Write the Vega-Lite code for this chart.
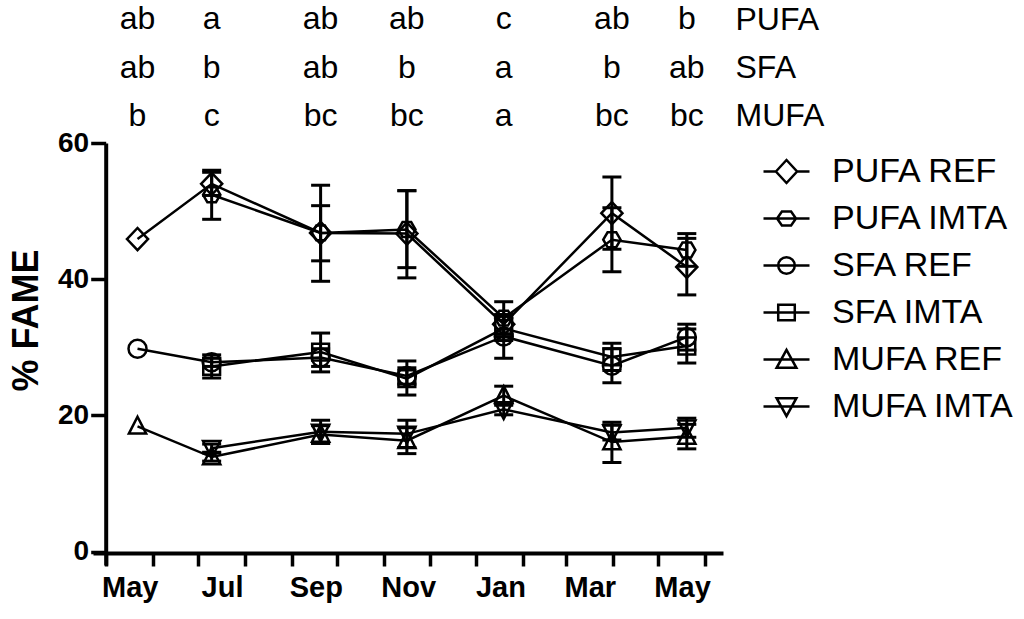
{
  "$schema": "https://vega.github.io/schema/vega-lite/v6.json",
  "background": "white",
  "padding": {"left": 8, "top": 0, "right": 5, "bottom": 5},
  "bounds": "flush",
  "spacing": 8,
  "config": {
    "font": "Liberation Sans",
    "view": {"stroke": null},
    "axis": {"labelColor": "black", "domainColor": "black", "tickColor": "black", "titleColor": "black", "grid": false}
  },
  "datasets": {
    "points": [
      {"date": "2010-05-22", "series": "PUFA REF", "value": 45.9, "lo": null, "hi": null},
      {"date": "2010-07-10", "series": "PUFA REF", "value": 54.0, "lo": 52.3, "hi": 55.7},
      {"date": "2010-09-20", "series": "PUFA REF", "value": 46.8, "lo": 39.7, "hi": 53.8},
      {"date": "2010-11-16", "series": "PUFA REF", "value": 46.7, "lo": 40.2, "hi": 53.0},
      {"date": "2011-01-19", "series": "PUFA REF", "value": 33.4, "lo": 32.0, "hi": 34.8},
      {"date": "2011-03-31T12:00:00Z", "series": "PUFA REF", "value": 49.7, "lo": 44.4, "hi": 55.0},
      {"date": "2011-05-20", "series": "PUFA REF", "value": 41.8, "lo": 37.7, "hi": 46.0},
      {"date": "2010-07-10", "series": "PUFA IMTA", "value": 52.4, "lo": 48.8, "hi": 56.0},
      {"date": "2010-09-20", "series": "PUFA IMTA", "value": 46.8, "lo": 42.7, "hi": 50.8},
      {"date": "2010-11-16", "series": "PUFA IMTA", "value": 47.3, "lo": 41.7, "hi": 53.0},
      {"date": "2011-01-19", "series": "PUFA IMTA", "value": 34.3, "lo": 31.9, "hi": 36.7},
      {"date": "2011-03-31T12:00:00Z", "series": "PUFA IMTA", "value": 45.8, "lo": 41.1, "hi": 50.5},
      {"date": "2011-05-20", "series": "PUFA IMTA", "value": 44.3, "lo": 41.9, "hi": 46.7},
      {"date": "2010-05-22", "series": "SFA REF", "value": 29.8, "lo": null, "hi": null},
      {"date": "2010-07-10", "series": "SFA REF", "value": 27.8, "lo": 27.2, "hi": 28.4},
      {"date": "2010-09-20", "series": "SFA REF", "value": 28.5, "lo": 27.2, "hi": 29.8},
      {"date": "2010-11-16", "series": "SFA REF", "value": 25.8, "lo": 24.6, "hi": 27.0},
      {"date": "2011-01-19", "series": "SFA REF", "value": 31.6, "lo": 28.4, "hi": 34.8},
      {"date": "2011-03-31T12:00:00Z", "series": "SFA REF", "value": 27.3, "lo": 24.8, "hi": 29.8},
      {"date": "2011-05-20", "series": "SFA REF", "value": 31.5, "lo": 29.6, "hi": 33.4},
      {"date": "2010-07-10", "series": "SFA IMTA", "value": 27.2, "lo": 25.5, "hi": 28.9},
      {"date": "2010-09-20", "series": "SFA IMTA", "value": 29.3, "lo": 26.4, "hi": 32.1},
      {"date": "2010-11-16", "series": "SFA IMTA", "value": 25.4, "lo": 23.0, "hi": 28.0},
      {"date": "2011-01-19", "series": "SFA IMTA", "value": 32.8, "lo": 31.0, "hi": 34.6},
      {"date": "2011-03-31T12:00:00Z", "series": "SFA IMTA", "value": 28.6, "lo": 26.6, "hi": 30.6},
      {"date": "2011-05-20", "series": "SFA IMTA", "value": 30.2, "lo": 27.7, "hi": 32.7},
      {"date": "2010-05-22", "series": "MUFA REF", "value": 18.4, "lo": null, "hi": null},
      {"date": "2010-07-10", "series": "MUFA REF", "value": 13.9, "lo": 13.3, "hi": 14.5},
      {"date": "2010-09-20", "series": "MUFA REF", "value": 17.2, "lo": 15.9, "hi": 18.5},
      {"date": "2010-11-16", "series": "MUFA REF", "value": 16.3, "lo": 14.4, "hi": 18.2},
      {"date": "2011-01-19", "series": "MUFA REF", "value": 22.9, "lo": 21.5, "hi": 24.3},
      {"date": "2011-03-31T12:00:00Z", "series": "MUFA REF", "value": 16.1, "lo": 13.1, "hi": 19.0},
      {"date": "2011-05-20", "series": "MUFA REF", "value": 16.9, "lo": 15.1, "hi": 18.7},
      {"date": "2010-07-10", "series": "MUFA IMTA", "value": 15.2, "lo": 14.6, "hi": 15.8},
      {"date": "2010-09-20", "series": "MUFA IMTA", "value": 17.6, "lo": 15.9, "hi": 19.3},
      {"date": "2010-11-16", "series": "MUFA IMTA", "value": 17.3, "lo": 15.3, "hi": 19.3},
      {"date": "2011-01-19", "series": "MUFA IMTA", "value": 20.9, "lo": 20.1, "hi": 21.7},
      {"date": "2011-03-31T12:00:00Z", "series": "MUFA IMTA", "value": 17.5, "lo": 16.4, "hi": 18.6},
      {"date": "2011-05-20", "series": "MUFA IMTA", "value": 18.2, "lo": 16.8, "hi": 19.6}
    ],
    "letters": [
      {"date": "2010-05-22", "fa": "PUFA", "letter": "ab"},
      {"date": "2010-07-10", "fa": "PUFA", "letter": "a"},
      {"date": "2010-09-20", "fa": "PUFA", "letter": "ab"},
      {"date": "2010-11-16", "fa": "PUFA", "letter": "ab"},
      {"date": "2011-01-19", "fa": "PUFA", "letter": "c"},
      {"date": "2011-03-31T12:00:00Z", "fa": "PUFA", "letter": "ab"},
      {"date": "2011-05-20", "fa": "PUFA", "letter": "b"},
      {"date": "2010-05-22", "fa": "SFA", "letter": "ab"},
      {"date": "2010-07-10", "fa": "SFA", "letter": "b"},
      {"date": "2010-09-20", "fa": "SFA", "letter": "ab"},
      {"date": "2010-11-16", "fa": "SFA", "letter": "b"},
      {"date": "2011-01-19", "fa": "SFA", "letter": "a"},
      {"date": "2011-03-31T12:00:00Z", "fa": "SFA", "letter": "b"},
      {"date": "2011-05-20", "fa": "SFA", "letter": "ab"},
      {"date": "2010-05-22", "fa": "MUFA", "letter": "b"},
      {"date": "2010-07-10", "fa": "MUFA", "letter": "c"},
      {"date": "2010-09-20", "fa": "MUFA", "letter": "bc"},
      {"date": "2010-11-16", "fa": "MUFA", "letter": "bc"},
      {"date": "2011-01-19", "fa": "MUFA", "letter": "a"},
      {"date": "2011-03-31T12:00:00Z", "fa": "MUFA", "letter": "bc"},
      {"date": "2011-05-20", "fa": "MUFA", "letter": "bc"}
    ]
  },
  "resolve": {"scale": {"x": "independent", "y": "independent"}, "legend": {"shape": "independent"}},
  "vconcat": [
    {
      "width": 630,
      "height": 135,
      "data": {"name": "letters"},
      "mark": {"type": "text", "fontSize": 32, "font": "Liberation Sans", "color": "black", "baseline": "middle", "align": "center"},
      "encoding": {
        "x": {"field": "date", "type": "temporal", "scale": {"type": "utc", "domain": [{"year": 2010, "month": 4, "date": 22, "hours": 14, "utc": true}, {"year": 2011, "month": 6, "date": 12, "hours": 22, "utc": true}]}, "axis": null},
        "y": {"field": "fa", "type": "nominal", "scale": {"type": "point", "padding": 0.406, "domain": ["PUFA", "SFA", "MUFA"]}, "axis": {"orient": "right", "domain": false, "ticks": false, "labelFontSize": 32, "labelFont": "Liberation Sans", "labelPadding": 12, "title": null}},
        "text": {"field": "letter"}
      }
    },
    {
      "width": 630,
      "height": 422,
      "data": {"name": "points"},
      "resolve": {"scale": {"shape": "independent"}, "legend": {"shape": "independent"}},
      "layer": [
        {
          "mark": {"type": "line", "color": "black", "strokeWidth": 2.5},
          "encoding": {
            "x": {"field": "date", "type": "temporal", "scale": {"type": "utc", "domain": [{"year": 2010, "month": 4, "date": 22, "hours": 14, "utc": true}, {"year": 2011, "month": 6, "date": 12, "hours": 22, "utc": true}]},
              "axis": {"title": null, "offset": -12, "domainWidth": 4, "tickWidth": 3.5, "tickSize": 13,
                "values": [
                  {"year": 2010, "month": 5, "date": 1, "utc": true}, {"year": 2010, "month": 6, "date": 1, "utc": true},
                  {"year": 2010, "month": 7, "date": 1, "utc": true}, {"year": 2010, "month": 8, "date": 1, "utc": true},
                  {"year": 2010, "month": 9, "date": 1, "utc": true}, {"year": 2010, "month": 10, "date": 1, "utc": true},
                  {"year": 2010, "month": 11, "date": 1, "utc": true}, {"year": 2010, "month": 12, "date": 1, "utc": true},
                  {"year": 2011, "month": 1, "date": 1, "utc": true}, {"year": 2011, "month": 2, "date": 1, "utc": true},
                  {"year": 2011, "month": 3, "date": 1, "utc": true}, {"year": 2011, "month": 4, "date": 1, "utc": true},
                  {"year": 2011, "month": 5, "date": 1, "utc": true}, {"year": 2011, "month": 6, "date": 1, "utc": true}
                ],
                "labelExpr": "utcmonth(datum.value) % 2 == 0 ? utcFormat(datum.value, '%b') : ''",
                "labelOffset": 24, "labelFlush": false, "labelOverlap": false, "labelBound": false,
                "labelFontSize": 29, "labelFontWeight": "bold", "labelPadding": 7}},
            "y": {"field": "value", "type": "quantitative", "title": "% FAME",
              "scale": {"domain": [-1.95, 60], "nice": false, "zero": false},
              "axis": {"values": [0, 20, 40, 60], "offset": -12.7, "domainWidth": 4, "tickWidth": 3.5, "tickSize": 15,
                "labelFontSize": 28, "labelFontWeight": "bold", "labelPadding": 2,
                "titleFontSize": 36, "titleFontWeight": "bold", "titlePadding": 12, "titleY": 177}},
            "detail": {"field": "series"}
          }
        },
        {
          "mark": {"type": "rule", "color": "black", "strokeWidth": 3},
          "encoding": {
            "x": {"field": "date", "type": "temporal"},
            "y": {"field": "lo", "type": "quantitative", "title": "% FAME"},
            "y2": {"field": "hi"}
          }
        },
        {
          "mark": {"type": "tick", "orient": "horizontal", "color": "black", "thickness": 3, "size": 19, "opacity": 1},
          "encoding": {
            "x": {"field": "date", "type": "temporal"},
            "y": {"field": "lo", "type": "quantitative", "title": "% FAME"}
          }
        },
        {
          "mark": {"type": "tick", "orient": "horizontal", "color": "black", "thickness": 3, "size": 19, "opacity": 1},
          "encoding": {
            "x": {"field": "date", "type": "temporal"},
            "y": {"field": "hi", "type": "quantitative", "title": "% FAME"}
          }
        },
        {
          "mark": {"type": "point", "filled": false, "color": "black", "strokeWidth": 2.5, "size": 576, "opacity": 1},
          "encoding": {
            "x": {"field": "date", "type": "temporal"},
            "y": {"field": "value", "type": "quantitative", "title": "% FAME"},
            "shape": {"field": "series", "type": "nominal", "legend": null,
              "scale": {"domain": ["PUFA REF", "PUFA IMTA", "SFA REF", "SFA IMTA", "MUFA REF", "MUFA IMTA"],
                "range": [
                  "M-0.88,0L0,-0.92L0.88,0L0,0.92Z",
                  "M-0.72,0L-0.36,-0.62L0.36,-0.62L0.72,0L0.36,0.62L-0.36,0.62Z",
                  "M-0.75,0A0.75,0.75,0,1,0,0.75,0A0.75,0.75,0,1,0,-0.75,0Z",
                  "M-0.7,-0.7H0.7V0.7H-0.7Z",
                  "M0,-0.8L0.72,0.6L-0.72,0.6Z",
                  "M0,0.8L0.72,-0.6L-0.72,-0.6Z"
                ]}}
          }
        },
        {
          "transform": [{"filter": "false"}],
          "mark": {"type": "point", "filled": false, "color": "black", "strokeWidth": 2.5, "opacity": 1},
          "encoding": {
            "x": {"field": "date", "type": "temporal"},
            "y": {"field": "value", "type": "quantitative", "title": "% FAME"},
            "shape": {"field": "series", "type": "nominal",
              "scale": {"domain": ["PUFA REF", "PUFA IMTA", "SFA REF", "SFA IMTA", "MUFA REF", "MUFA IMTA"],
                "range": [
                  "M-1,0H-0.46M0.46,0H1M-0.46,0L0,-0.5L0.46,0L0,0.5Z",
                  "M-1,0H1M-0.41,0L-0.2,-0.3L0.2,-0.3L0.41,0L0.2,0.3L-0.2,0.3Z",
                  "M-1,0H1M-0.36,0A0.36,0.36,0,1,0,0.36,0A0.36,0.36,0,1,0,-0.36,0Z",
                  "M-1,0H1M-0.36,-0.34H0.36V0.34H-0.36Z",
                  "M-1,0H1M0,-0.42L0.43,0.36L-0.43,0.36Z",
                  "M-1,0H1M0,0.42L0.43,-0.36L-0.43,-0.36Z"
                ]},
              "legend": {"title": null, "orient": "right", "offset": 35, "padding": 4, "rowPadding": 5,
                "labelFontSize": 34, "labelFont": "Liberation Sans", "labelColor": "black", "labelOffset": 21, "labelLimit": 400,
                "symbolSize": 2116, "symbolStrokeWidth": 2.5, "symbolStrokeColor": "black"}}
          }
        }
      ]
    }
  ]
}
